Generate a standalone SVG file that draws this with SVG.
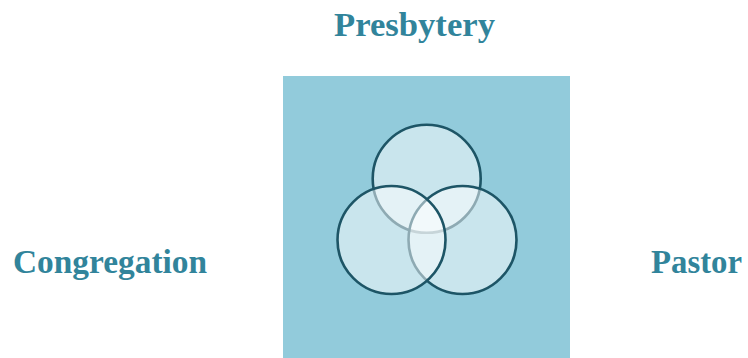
<svg xmlns="http://www.w3.org/2000/svg" width="748" height="358" viewBox="0 0 748 358">
<style>
.lbl{font-family:"Liberation Serif","DejaVu Serif",serif;font-weight:bold;font-size:33px;fill:#31849b}
.c{fill:#ffffff;fill-opacity:0.5;stroke:#1d5566;stroke-width:2.6}
</style>
<rect width="748" height="358" fill="#ffffff"/>
<g id="box"><rect x="283" y="76" width="287" height="290" fill="#92cbdb"/></g>
<g id="circle-top"><circle class="c" cx="426.7" cy="178.8" r="54"/></g>
<g id="circle-right"><circle class="c" cx="462.5" cy="240" r="54"/></g>
<g id="circle-left"><circle class="c" cx="391.5" cy="240" r="54"/></g>
<g id="connectors"></g>
<g id="presbytery"><text class="lbl" x="334" y="36" textLength="161" lengthAdjust="spacingAndGlyphs">Presbytery</text></g>
<g id="congregation"><text class="lbl" x="13" y="273" textLength="194" lengthAdjust="spacingAndGlyphs">Congregation</text></g>
<g id="pastor"><text class="lbl" x="651" y="273" textLength="91" lengthAdjust="spacingAndGlyphs">Pastor</text></g>
</svg>
